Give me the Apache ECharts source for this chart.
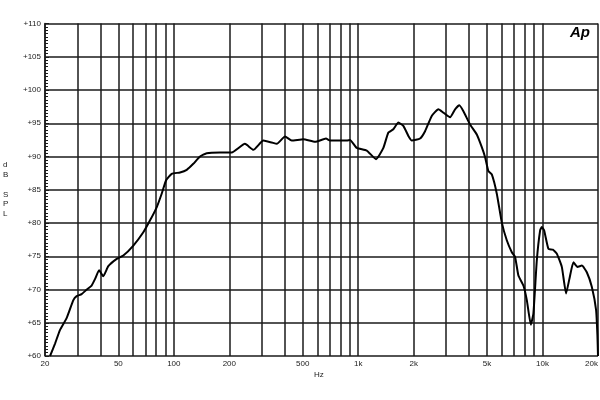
<!DOCTYPE html>
<html>
<head>
<meta charset="utf-8">
<script src="https://cdn.jsdelivr.net/npm/echarts@6/dist/echarts.min.js"></script>
<style>html,body{margin:0;padding:0;background:#fff}#c{width:600px;height:400px}</style>
</head>
<body>
<div id="c"></div>
<script>
// Frequency (Hz) and SPL (dB)
const freqHz = [21.3, 22.7, 24.1, 26.2, 28.5, 29.7, 31.6, 33.7, 35.8, 37.4, 39.3, 41.4, 44.1, 49.0, 53.2, 60.3, 68.3, 74.3, 80.8, 85.9, 90.7, 97.4, 108, 117.5, 127.5, 138.7, 150.8, 178, 206, 243, 270, 306, 340, 362, 401, 436, 504, 584, 669, 704, 867, 903, 982, 1113, 1250, 1370, 1458, 1552, 1652, 1758, 1872, 1953, 2166, 2306, 2507, 2723, 2899, 3152, 3355, 3540, 3723, 4047, 4401, 4684, 4881, 5087, 5308, 5650, 6012, 6400, 6815, 7100, 7400, 7877, 8220, 8641, 8926, 9314, 9706, 9915, 10200, 10766, 11372, 11954, 12727, 13427, 13993, 14710, 15465, 16340, 17390, 18510, 19530, 19850, 20000];
const splDb = [60, 61.9, 63.9, 65.7, 68.4, 69.0, 69.3, 70.0, 70.6, 71.6, 72.9, 72.0, 73.5, 74.6, 75.1, 76.6, 78.6, 80.4, 82.4, 84.4, 86.4, 87.4, 87.6, 88.0, 88.9, 90.0, 90.5, 90.6, 90.6, 91.9, 91.0, 92.4, 92.1, 91.9, 93.0, 92.4, 92.6, 92.2, 92.7, 92.4, 92.4, 92.5, 91.3, 90.9, 89.6, 91.3, 93.6, 94.1, 95.1, 94.6, 93.1, 92.4, 92.7, 93.8, 96.1, 97.1, 96.6, 95.9, 97.1, 97.7, 96.8, 94.8, 93.3, 91.4, 89.9, 87.8, 87.3, 84.4, 80.1, 77.4, 75.6, 74.9, 72.1, 70.6, 68.4, 64.7, 66.4, 74.4, 78.9, 79.4, 78.9, 76.1, 76.0, 75.4, 73.4, 69.4, 71.6, 74.1, 73.4, 73.6, 72.6, 70.4, 66.9, 63.2, 60];
// Vertical grid line frequencies
const gridFreqs = [20, 30, 40, 50, 60, 70, 80, 90, 100, 200, 300, 400, 500, 600, 700, 800, 900, 1000, 2000, 3000, 4000, 5000, 6000, 7000, 8000, 9000, 10000, 20000];
// Labelled x ticks
const xTickFreqs = [20, 50, 100, 200, 500, 1000, 2000, 5000, 10000, 20000];
const xTickLabels = ['20', '50', '100', '200', '500', '1k', '2k', '5k', '10k', '20k'];
const yMin = 60, yMax = 110, yStep = 5;

const chart = echarts.init(document.getElementById('c'), null, {renderer: 'canvas'});
const lineColor = '#1a1a1a';
const markData = gridFreqs.map(f => {
  const i = xTickFreqs.indexOf(f);
  const item = {xAxis: f};
  if (i >= 0) {
    item.label = {show: true, position: 'start', formatter: xTickLabels[i], fontSize: 8, color: '#222', fontFamily: 'Liberation Sans', distance: 4};
    if (i === xTickFreqs.length - 1) item.label.align = 'right';
  }
  return item;
});

chart.setOption({
  animation: false,
  backgroundColor: '#fff',
  grid: {left: 45, right: 2, top: 23.5, bottom: 44, containLabel: false},
  xAxis: {
    type: 'log', logBase: 10, min: 20, max: 20000,
    axisLine: {show: false}, axisTick: {show: false}, axisLabel: {show: false},
    splitLine: {show: false}, minorTick: {show: false}, minorSplitLine: {show: false}
  },
  yAxis: {
    type: 'value', min: yMin, max: yMax, interval: yStep,
    axisLine: {show: true, lineStyle: {color: lineColor, width: 1.5}},
    axisTick: {show: true, inside: true, length: 4, lineStyle: {color: lineColor, width: 1}},
    minorTick: {show: true, splitNumber: 10, length: 3, lineStyle: {color: lineColor, width: 1}},
    axisLabel: {formatter: v => '+' + v, fontSize: 8, color: '#222', margin: 4, fontFamily: 'Liberation Sans'},
    splitLine: {show: true, lineStyle: {color: lineColor, width: 1.5}}
  },
  graphic: [
    {type: 'text', left: 3, top: 160, style: {text: 'd\nB\n\nS\nP\nL', fontSize: 8, lineHeight: 9.8, fill: '#222', fontFamily: 'Liberation Sans'}},
    {type: 'text', left: 314, top: 371, style: {text: 'Hz', fontSize: 8, fill: '#222', fontFamily: 'Liberation Sans'}},
    {type: 'text', left: 570, top: 25, style: {text: 'Ap', fontSize: 15, fontWeight: 'bold', fontStyle: 'italic', fill: '#000', fontFamily: 'Liberation Sans'}}
  ],
  series: [{
    type: 'line',
    data: freqHz.map((f, i) => [f, splDb[i]]),
    showSymbol: false,
    symbol: 'none',
    smooth: 0.15,
    lineStyle: {color: '#000', width: 2},
    z: 10,
    markLine: {
      silent: true,
      symbol: ['none', 'none'],
      animation: false,
      label: {show: false},
      lineStyle: {color: lineColor, width: 1.5, type: 'solid'},
      emphasis: {disabled: true},
      data: markData
    }
  }]
});
</script>
</body>
</html>
